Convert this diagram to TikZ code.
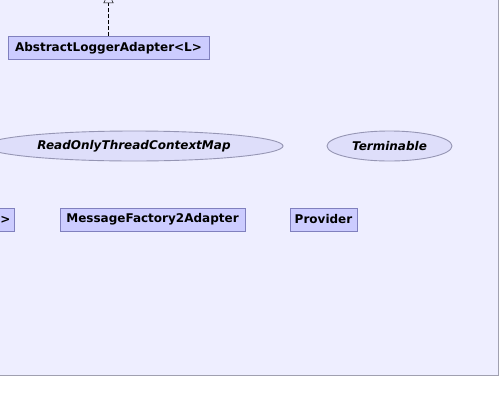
\documentclass[tikz,border=0pt]{standalone}
\usepackage{fontspec}
\setmainfont{DejaVu Sans}
\usetikzlibrary{shapes.geometric, arrows.meta, positioning}
\definecolor{panelbg}{RGB}{238,238,255}
\definecolor{panelline}{RGB}{160,160,176}
\definecolor{boxfill}{RGB}{204,204,255}
\definecolor{boxline}{RGB}{128,128,190}
\definecolor{ovalfill}{RGB}{222,222,250}
\definecolor{ovalline}{RGB}{150,150,180}
\tikzstyle{classbox} = [draw=boxline, fill=boxfill, rectangle, line width=0.9pt,
  minimum height=23pt, inner sep=0pt, font=\fontsize{12}{14}\selectfont\bfseries]
\tikzstyle{iface} = [draw=ovalline, fill=ovalfill, ellipse, line width=0.9pt,
  minimum height=30pt, inner sep=0pt, font=\fontsize{12}{14}\selectfont\bfseries\itshape]

\begin{document}
\begin{tikzpicture}[x=1pt, y=-1pt]
  \useasboundingbox (0,0) rectangle (501,413);
  \clip (0,0) rectangle (501,413);
  % panel
  \fill[panelbg] (-5,-5) rectangle (498,375);
  \draw[panelline, line width=1pt] (498,-5) -- (498,375) -- (-5,375);
  % classes
  \node[classbox, minimum width=201pt] (abstractadapter) at (108.5,48) {AbstractLoggerAdapter<L>};
  \node[classbox, minimum width=185pt] (msgfactory) at (152.5,219.5) {MessageFactory2Adapter};
  \node[classbox, minimum width=67pt] (provider) at (323.5,219.5) {Provider};
  \node[classbox, minimum width=60pt, align=right, text width=52pt, anchor=east] (leftcut) at (15,219.5) {>};
  % interfaces
  \node[iface, minimum width=298pt] (readonlymap) at (134,146) {ReadOnlyThreadContextMap};
  \node[iface, minimum width=125pt] (terminable) at (389.5,146) {Terminable};
  % realization going up
  \coordinate (parent) at (108.5,-7);
  \draw[black, dash pattern=on 4pt off 2pt, -{Triangle[open, width=10pt, length=10pt]}]
    (abstractadapter) -- (parent);
\end{tikzpicture}
\end{document}
